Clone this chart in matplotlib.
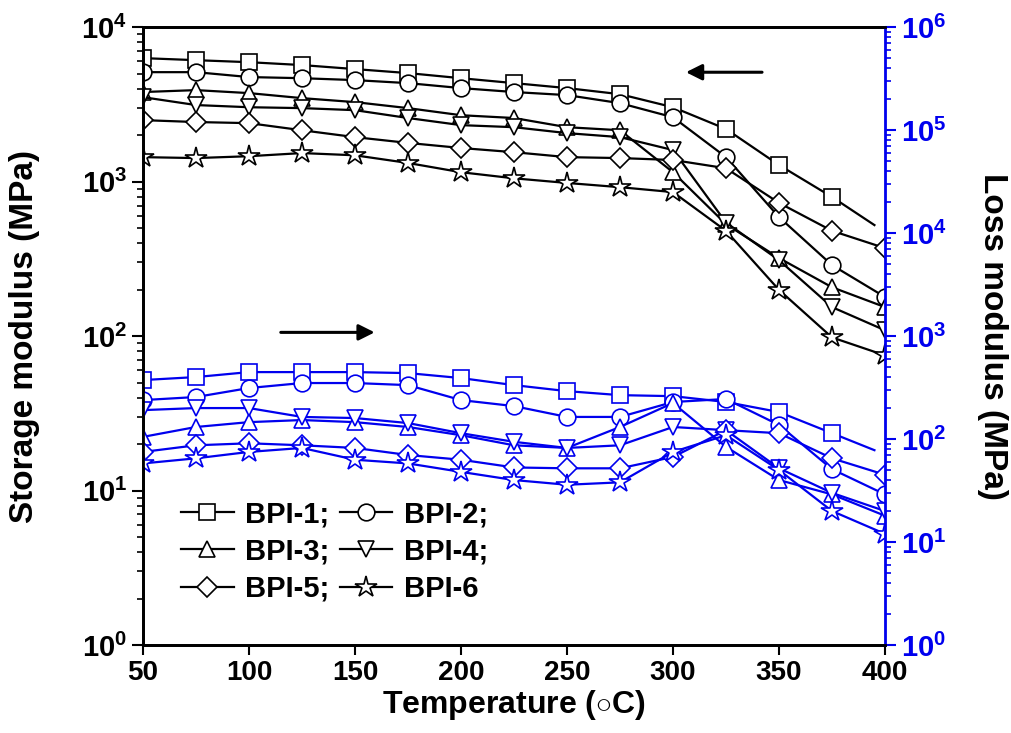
import math
import matplotlib.pyplot as plt
from matplotlib.ticker import LogLocator, FuncFormatter, NullFormatter

plt.rcParams['font.family'] = ['Liberation Sans', 'DejaVu Sans']
plt.rcParams['font.weight'] = 'bold'
plt.rcParams['mathtext.fontset'] = 'custom'
plt.rcParams['mathtext.rm'] = 'Liberation Sans:bold'
plt.rcParams['mathtext.bf'] = 'Liberation Sans:bold'

temps = [50, 75, 100, 125, 150, 175, 200, 225, 250, 275, 300, 325, 350, 375, 400]
temps_1 = [50, 75, 100, 125, 150, 175, 200, 225, 250, 275, 300, 325, 350, 375, 395]

names = ['BPI-1', 'BPI-2', 'BPI-3', 'BPI-4', 'BPI-5', 'BPI-6']
markers = ['s', 'o', '^', 'v', 'D', '*']

# storage modulus (MPa), left axis
storage = {
    'BPI-1': [6300, 6110, 5930, 5680, 5350, 5040, 4670, 4340, 4030, 3680, 3030, 2190, 1280, 795, 523],
    'BPI-2': [5110, 5110, 4750, 4670, 4540, 4340, 4030, 3800, 3630, 3220, 2610, 1440, 589, 288, 179],
    'BPI-3': [3800, 3910, 3740, 3470, 3270, 2990, 2690, 2580, 2250, 2150, 1150, 530, 320, 207, 154],
    'BPI-4': [3520, 3130, 3030, 2990, 2900, 2580, 2320, 2250, 2060, 1940, 1600, 543, 310, 154, 109],
    'BPI-5': [2500, 2430, 2390, 2150, 1940, 1780, 1650, 1550, 1440, 1420, 1380, 1220, 728, 480, 371],
    'BPI-6': [1440, 1420, 1460, 1530, 1480, 1320, 1150, 1050, 980, 920, 855, 480, 199, 98, 75],
}

# loss modulus (MPa), right axis
loss = {
    'BPI-1': [374, 400, 447, 447, 447, 437, 391, 334, 292, 267, 261, 229, 183, 114, 78],
    'BPI-2': [239, 256, 313, 350, 350, 334, 239, 209, 164, 164, 229, 245, 137, 51, 29],
    'BPI-3': [105, 131, 146, 153, 146, 131, 109, 87, 82, 131, 224, 84, 40, 29, 18],
    'BPI-4': [191, 200, 200, 164, 160, 143, 114, 94, 82, 87, 131, 122, 52, 30, 20],
    'BPI-5': [75, 87, 91, 87, 82, 70, 63, 53, 52, 52, 67, 122, 114, 65, 45],
    'BPI-6': [58, 65, 75, 82, 63, 58, 48, 40, 36, 38, 75, 109, 50, 20, 12],
}

blue = '#0000EE'

fig = plt.figure(figsize=(10.11, 7.33), dpi=100)
ax = fig.add_axes([0.1414, 0.120, 0.734, 0.843])
ax2 = ax.twinx()

handles = {}
for name, m in zip(names, markers):
    x = temps_1 if name == 'BPI-1' else temps
    me = slice(0, 14) if name == 'BPI-1' else None
    ms = {'s': 11, 'o': 12, '^': 12, 'v': 12, 'D': 10, '*': 16}[m]
    line, = ax.plot(x, storage[name], color='black', lw=1.6, marker=m, ms=ms,
                    mfc='white', mec='black', mew=1.2, markevery=me, label=name)
    handles[name] = line
    ax2.plot(x, loss[name], color=blue, lw=1.6, marker=m, ms=ms,
             mfc='white', mec=blue, mew=1.2, markevery=me)

ax.set_yscale('log')
ax2.set_yscale('log')
ax.set_xlim(50, 400)
ax.set_ylim(1, 1e4)
ax2.set_ylim(1, 1e6)


def pow_fmt(v, pos):
    e = int(round(math.log10(v)))
    return r'$\mathbf{10^{%d}}$' % e


for a in (ax, ax2):
    a.yaxis.set_major_locator(LogLocator(base=10, numticks=10))
    a.yaxis.set_minor_locator(LogLocator(base=10, subs=range(2, 10), numticks=20))
    a.yaxis.set_major_formatter(FuncFormatter(pow_fmt))
    a.yaxis.set_minor_formatter(NullFormatter())

ax.set_xticks([50, 100, 150, 200, 250, 300, 350, 400])
ax.tick_params(axis='x', direction='out', length=7, width=1.5, labelsize=20, top=False)
ax.tick_params(axis='y', which='major', direction='out', length=8, width=1.5, labelsize=21)
ax.tick_params(axis='y', which='minor', direction='out', length=4, width=1.2)
ax2.tick_params(axis='y', which='major', direction='out', length=8, width=1.5,
                labelsize=21, colors=blue)
ax2.tick_params(axis='y', which='minor', direction='out', length=4, width=1.2, colors=blue)
for lab in ax.get_xticklabels():
    lab.set_fontweight('bold')

for s in ('left', 'top', 'bottom'):
    ax.spines[s].set_linewidth(2)
    ax2.spines[s].set_linewidth(2)
ax2.spines['right'].set_color(blue)
ax2.spines['right'].set_linewidth(2)

ax.set_xlabel(r'Temperature ($\circ$C)', fontsize=23, fontweight='bold', labelpad=2)
ax.set_ylabel('Storage modulus (MPa)', fontsize=24, fontweight='bold', labelpad=30)
ax2.set_ylabel('Loss modulus (MPa)', fontsize=24, fontweight='bold', rotation=270, labelpad=44)

ax.annotate('', xy=(0.728, 0.927), xytext=(0.838, 0.927), xycoords='axes fraction',
            arrowprops=dict(arrowstyle='-|>', color='black', lw=2.2, mutation_scale=24))
ax.annotate('', xy=(0.316, 0.506), xytext=(0.182, 0.506), xycoords='axes fraction',
            arrowprops=dict(arrowstyle='-|>', color='black', lw=2.2, mutation_scale=24))

order = ['BPI-1', 'BPI-3', 'BPI-5', 'BPI-2', 'BPI-4', 'BPI-6']
labels = ['BPI-1;', 'BPI-3;', 'BPI-5;', 'BPI-2;', 'BPI-4;', 'BPI-6']
ax.legend([handles[n] for n in order], labels, ncol=2, loc='lower left',
          bbox_to_anchor=(0.016, 0.026), frameon=False,
          prop={'weight': 'bold', 'size': 21}, handlelength=1.8, columnspacing=0.35,
          handletextpad=0.4, labelspacing=0.32)

fig.savefig('out.png', dpi=100)
